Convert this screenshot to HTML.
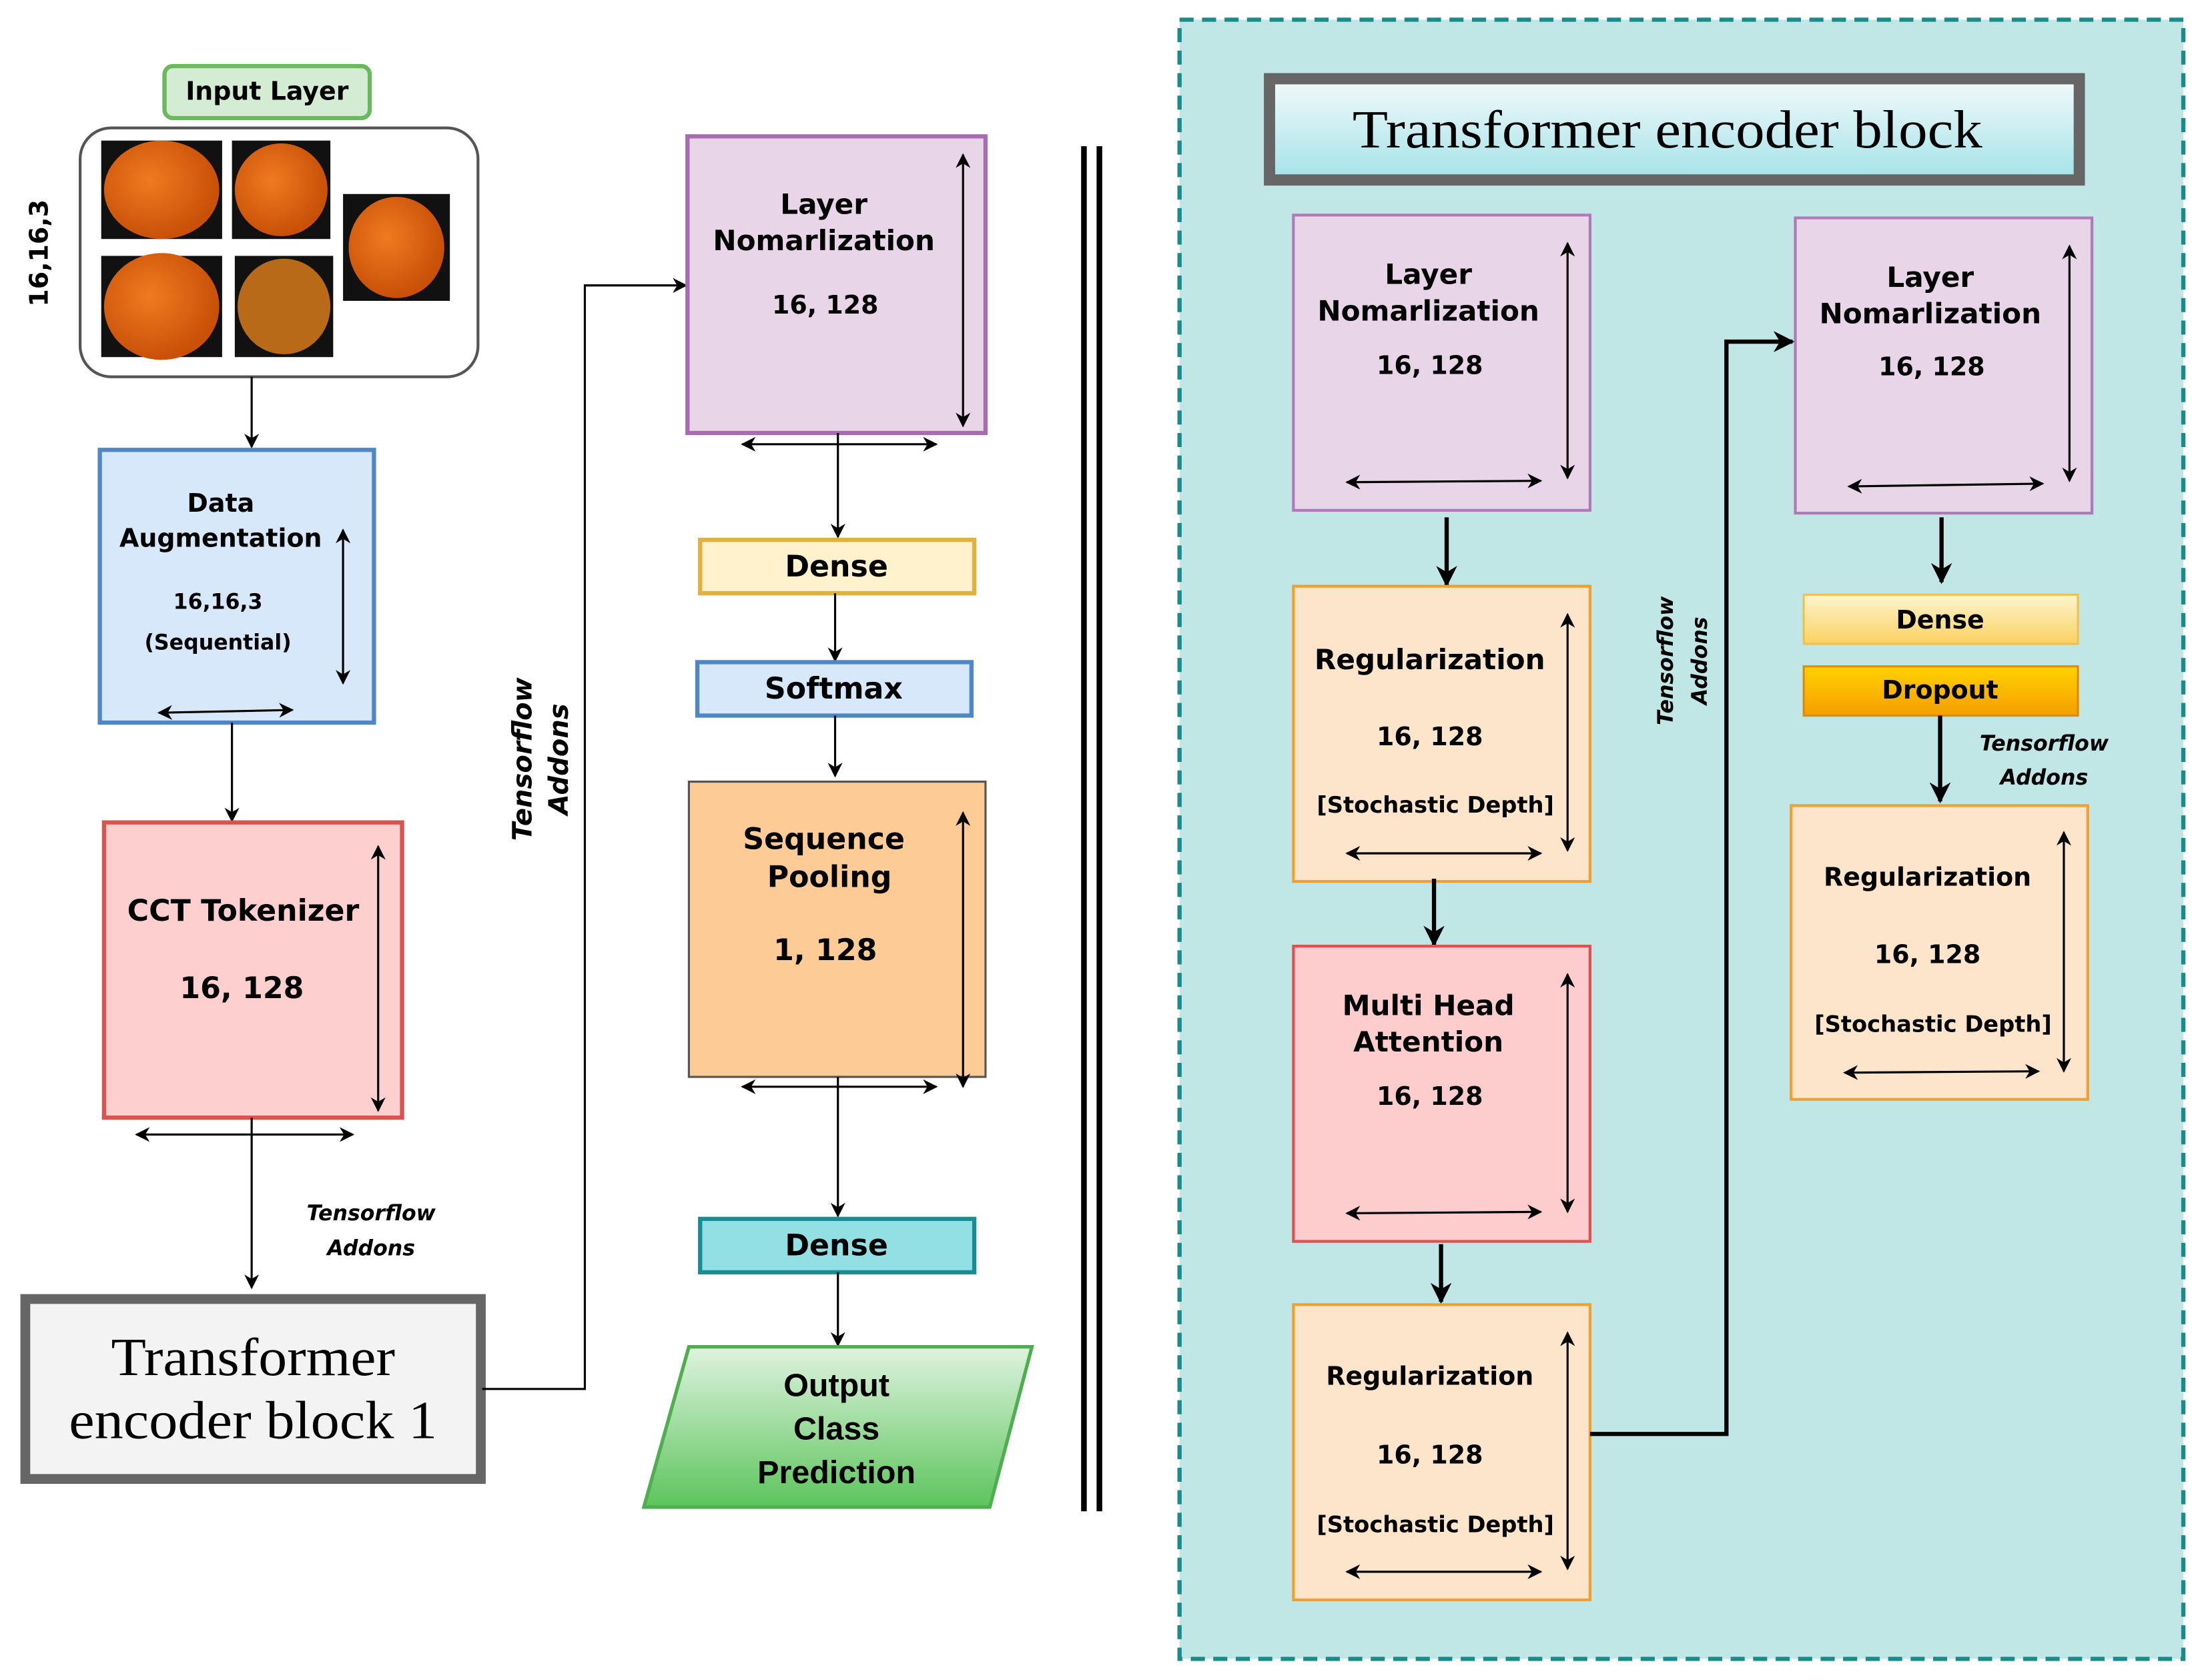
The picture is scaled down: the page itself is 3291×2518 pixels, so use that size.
<!DOCTYPE html>
<html><head><meta charset="utf-8"><style>html,body{margin:0;padding:0;background:#fff}svg{display:block}</style></head>
<body>
<svg width="3291" height="2518" viewBox="0 0 1562 1195" preserveAspectRatio="none" xmlns="http://www.w3.org/2000/svg">
<defs>
<marker id="a" viewBox="0 0 10 10" refX="9" refY="5" markerWidth="7" markerHeight="7" orient="auto-start-reverse"><path d="M0,0 L10,5 L0,10 L3,5 z" fill="#000"/></marker>
<marker id="b" viewBox="0 0 10 10" refX="9" refY="5" markerWidth="5" markerHeight="5" orient="auto-start-reverse"><path d="M0,0 L10,5 L0,10 L3,5 z" fill="#000"/></marker>
<linearGradient id="g1" x1="0" y1="0" x2="0" y2="1"><stop offset="0" stop-color="#dff3df"/><stop offset="1" stop-color="#5cc45c"/></linearGradient>
<linearGradient id="g2" x1="0" y1="0" x2="0" y2="1"><stop offset="0" stop-color="#f4fafa"/><stop offset="1" stop-color="#a3e2e8"/></linearGradient>
<linearGradient id="g3" x1="0" y1="0" x2="0" y2="1"><stop offset="0" stop-color="#fff6cf"/><stop offset="1" stop-color="#fbd160"/></linearGradient>
<linearGradient id="g4" x1="0" y1="0" x2="0" y2="1"><stop offset="0" stop-color="#ffd200"/><stop offset="1" stop-color="#f59e00"/></linearGradient>
<radialGradient id="eye" cx="0.4" cy="0.4" r="0.6"><stop offset="0" stop-color="#f07a20"/><stop offset="1" stop-color="#c85008"/></radialGradient>
</defs>
<g font-family="'DejaVu Sans','Liberation Sans',sans-serif" font-weight="bold" text-anchor="middle" fill="#000">
<rect x="117" y="47" width="146" height="37" rx="6" fill="#d5ecd4" stroke="#6ab95e" stroke-width="3"/>
<text x="190" y="71" font-size="18">Input Layer</text>
<rect x="57" y="91" width="283" height="177" rx="22" fill="#fff" stroke="#555" stroke-width="2"/>
<rect x="72" y="100" width="86" height="70" fill="#111"/><ellipse cx="115" cy="135" rx="41" ry="35" fill="url(#eye)"/>
<rect x="165" y="100" width="70" height="70" fill="#111"/><ellipse cx="200" cy="135" rx="33" ry="33" fill="url(#eye)"/>
<rect x="244" y="138" width="76" height="76" fill="#111"/><ellipse cx="282" cy="176" rx="34" ry="36" fill="url(#eye)"/>
<rect x="72" y="182" width="86" height="72" fill="#111"/><ellipse cx="115" cy="218" rx="41" ry="38" fill="url(#eye)"/>
<rect x="167" y="182" width="70" height="72" fill="#111"/><ellipse cx="202" cy="218" rx="33" ry="34" fill="#b86a18"/>
<text transform="translate(34,180) rotate(-90)" font-size="18">16,16,3</text>
<line x1="179" y1="268" x2="179" y2="318" stroke="#000" stroke-width="1.5" marker-end="url(#a)"/>
<rect x="71" y="320" width="195" height="194" fill="#d6e8fa" stroke="#4f86c6" stroke-width="3"/>
<text x="157" y="364" font-size="18">Data</text>
<text x="157" y="389" font-size="18">Augmentation</text>
<text x="155" y="433" font-size="15">16,16,3</text>
<text x="155" y="462" font-size="15">(Sequential)</text>
<line x1="244" y1="377" x2="244" y2="486" stroke="#000" stroke-width="1.5" marker-start="url(#a)" marker-end="url(#a)"/>
<line x1="113" y1="507" x2="208" y2="505" stroke="#000" stroke-width="1.5" marker-start="url(#a)" marker-end="url(#a)"/>
<line x1="165" y1="514" x2="165" y2="584" stroke="#000" stroke-width="1.5" marker-end="url(#a)"/>
<rect x="74" y="585" width="212" height="210" fill="#fdd0cf" stroke="#d9534f" stroke-width="3"/>
<text x="173" y="655" font-size="21">CCT Tokenizer</text>
<text x="172" y="710" font-size="21">16, 128</text>
<line x1="269" y1="602" x2="269" y2="790" stroke="#000" stroke-width="1.5" marker-start="url(#a)" marker-end="url(#a)"/>
<line x1="97" y1="807" x2="251" y2="807" stroke="#000" stroke-width="1.5" marker-start="url(#a)" marker-end="url(#a)"/>
<line x1="179" y1="795" x2="179" y2="916" stroke="#000" stroke-width="1.5" marker-end="url(#a)"/>
<text x="264" y="868" font-size="15" font-style="italic">Tensorflow</text>
<text x="264" y="893" font-size="15" font-style="italic">Addons</text>
<rect x="18" y="924" width="324" height="128" fill="#f3f3f3" stroke="#666" stroke-width="7"/>
<text x="180" y="978" font-size="38" font-weight="normal" font-family="'Liberation Serif',serif" textLength="202" lengthAdjust="spacingAndGlyphs">Transformer</text>
<text x="180" y="1023" font-size="38" font-weight="normal" font-family="'Liberation Serif',serif" textLength="262" lengthAdjust="spacingAndGlyphs">encoder  block 1</text>
<polyline points="343,988 416,988 416,203 488,203" fill="none" stroke="#000" stroke-width="1.5" marker-end="url(#a)"/>
<text transform="translate(378,540) rotate(-90)" font-size="19" font-style="italic">Tensorflow</text>
<text transform="translate(404,540) rotate(-90)" font-size="19" font-style="italic">Addons</text>
<rect x="489" y="97" width="212" height="211" fill="#e8d5e8" stroke="#a66bb0" stroke-width="3"/>
<text x="586" y="152" font-size="20">Layer</text>
<text x="586" y="178" font-size="20">Nomarlization</text>
<text x="587" y="223" font-size="18">16, 128</text>
<line x1="685" y1="110" x2="685" y2="303" stroke="#000" stroke-width="1.5" marker-start="url(#a)" marker-end="url(#a)"/>
<line x1="528" y1="316" x2="666" y2="316" stroke="#000" stroke-width="1.5" marker-start="url(#a)" marker-end="url(#a)"/>
<line x1="596" y1="308" x2="596" y2="382" stroke="#000" stroke-width="1.5" marker-end="url(#a)"/>
<rect x="498" y="384" width="195" height="38" fill="#fff2cc" stroke="#e0b040" stroke-width="3"/>
<text x="595" y="410" font-size="21">Dense</text>
<line x1="594" y1="422" x2="594" y2="470" stroke="#000" stroke-width="1.5" marker-end="url(#a)"/>
<rect x="496" y="471" width="195" height="38" fill="#d6e8fa" stroke="#4f86c6" stroke-width="3"/>
<text x="593" y="497" font-size="21">Softmax</text>
<line x1="594" y1="509" x2="594" y2="552" stroke="#000" stroke-width="1.5" marker-end="url(#a)"/>
<rect x="490" y="556" width="211" height="210" fill="#fdcb96" stroke="#555" stroke-width="1.5"/>
<text x="586" y="604" font-size="21">Sequence</text>
<text x="590" y="631" font-size="21">Pooling</text>
<text x="587" y="683" font-size="21">1, 128</text>
<line x1="685" y1="578" x2="685" y2="773" stroke="#000" stroke-width="1.5" marker-start="url(#a)" marker-end="url(#a)"/>
<line x1="528" y1="773" x2="666" y2="773" stroke="#000" stroke-width="1.5" marker-start="url(#a)" marker-end="url(#a)"/>
<line x1="596" y1="766" x2="596" y2="865" stroke="#000" stroke-width="1.5" marker-end="url(#a)"/>
<rect x="498" y="867" width="195" height="38" fill="#93e0e4" stroke="#1a8c94" stroke-width="3"/>
<text x="595" y="893" font-size="21">Dense</text>
<line x1="596" y1="905" x2="596" y2="957" stroke="#000" stroke-width="1.5" marker-end="url(#a)"/>
<polygon points="490,958 734,958 704,1072 458,1072" fill="url(#g1)" stroke="#4fae4f" stroke-width="2.5"/>
<text x="595" y="993" font-size="23" font-family="'Liberation Sans',sans-serif">Output</text>
<text x="595" y="1024" font-size="23" font-family="'Liberation Sans',sans-serif">Class</text>
<text x="595" y="1055" font-size="23" font-family="'Liberation Sans',sans-serif">Prediction</text>
<line x1="771" y1="104" x2="771" y2="1075" stroke="#000" stroke-width="4"/>
<line x1="782" y1="104" x2="782" y2="1075" stroke="#000" stroke-width="4"/>
<rect x="839" y="14" width="714" height="1166" fill="#c1e6e6" stroke="#1a8a8a" stroke-width="3" stroke-dasharray="10 6"/>
<rect x="903" y="56" width="576" height="72" fill="url(#g2)" stroke="#666" stroke-width="8"/>
<text x="1186" y="105" font-size="38" font-weight="normal" font-family="'Liberation Serif',serif" textLength="448" lengthAdjust="spacingAndGlyphs">Transformer encoder  block</text>
<rect x="920" y="153" width="211" height="210" fill="#e8d5e8" stroke="#b07ab8" stroke-width="2"/>
<text x="1016" y="202" font-size="20">Layer</text>
<text x="1016" y="228" font-size="20">Nomarlization</text>
<text x="1017" y="266" font-size="18">16, 128</text>
<line x1="1115" y1="173" x2="1115" y2="340" stroke="#000" stroke-width="1.5" marker-start="url(#a)" marker-end="url(#a)"/>
<line x1="958" y1="343" x2="1096" y2="342" stroke="#000" stroke-width="1.5" marker-start="url(#a)" marker-end="url(#a)"/>
<line x1="1029" y1="368" x2="1029" y2="416" stroke="#000" stroke-width="3" marker-end="url(#b)"/>
<rect x="920" y="417" width="211" height="210" fill="#fde5cb" stroke="#f0a030" stroke-width="2"/>
<text x="1017" y="476" font-size="20">Regularization</text>
<text x="1017" y="530" font-size="18">16, 128</text>
<text x="1021" y="578" font-size="16">[Stochastic Depth]</text>
<line x1="1115" y1="437" x2="1115" y2="605" stroke="#000" stroke-width="1.5" marker-start="url(#a)" marker-end="url(#a)"/>
<line x1="958" y1="607" x2="1096" y2="607" stroke="#000" stroke-width="1.5" marker-start="url(#a)" marker-end="url(#a)"/>
<line x1="1020" y1="625" x2="1020" y2="672" stroke="#000" stroke-width="3" marker-end="url(#b)"/>
<rect x="920" y="673" width="211" height="210" fill="#fdcdcd" stroke="#e05050" stroke-width="2"/>
<text x="1016" y="722" font-size="20">Multi Head</text>
<text x="1016" y="748" font-size="20">Attention</text>
<text x="1017" y="786" font-size="18">16, 128</text>
<line x1="1115" y1="693" x2="1115" y2="862" stroke="#000" stroke-width="1.5" marker-start="url(#a)" marker-end="url(#a)"/>
<line x1="958" y1="863" x2="1096" y2="862" stroke="#000" stroke-width="1.5" marker-start="url(#a)" marker-end="url(#a)"/>
<line x1="1025" y1="885" x2="1025" y2="926" stroke="#000" stroke-width="3" marker-end="url(#b)"/>
<rect x="920" y="928" width="211" height="210" fill="#fde5cb" stroke="#f0a030" stroke-width="2"/>
<text x="1017" y="985" font-size="18">Regularization</text>
<text x="1017" y="1041" font-size="18">16, 128</text>
<text x="1021" y="1090" font-size="16">[Stochastic Depth]</text>
<line x1="1115" y1="948" x2="1115" y2="1116" stroke="#000" stroke-width="1.5" marker-start="url(#a)" marker-end="url(#a)"/>
<line x1="958" y1="1118" x2="1096" y2="1118" stroke="#000" stroke-width="1.5" marker-start="url(#a)" marker-end="url(#a)"/>
<polyline points="1131,1020 1228,1020 1228,243 1275,243" fill="none" stroke="#000" stroke-width="3" marker-end="url(#b)"/>
<text transform="translate(1190,470) rotate(-90)" font-size="15" font-style="italic">Tensorflow</text>
<text transform="translate(1214,470) rotate(-90)" font-size="15" font-style="italic">Addons</text>
<rect x="1277" y="155" width="211" height="210" fill="#e8d5e8" stroke="#b07ab8" stroke-width="2"/>
<text x="1373" y="204" font-size="20">Layer</text>
<text x="1373" y="230" font-size="20">Nomarlization</text>
<text x="1374" y="267" font-size="18">16, 128</text>
<line x1="1472" y1="175" x2="1472" y2="342" stroke="#000" stroke-width="1.5" marker-start="url(#a)" marker-end="url(#a)"/>
<line x1="1315" y1="346" x2="1453" y2="344" stroke="#000" stroke-width="1.5" marker-start="url(#a)" marker-end="url(#a)"/>
<line x1="1381" y1="368" x2="1381" y2="414" stroke="#000" stroke-width="3" marker-end="url(#b)"/>
<rect x="1283" y="423" width="195" height="35" fill="url(#g3)" stroke="#f0c050" stroke-width="1.5"/>
<text x="1380" y="447" font-size="18">Dense</text>
<rect x="1283" y="474" width="195" height="35" fill="url(#g4)" stroke="#e08a00" stroke-width="1.5"/>
<text x="1380" y="497" font-size="18">Dropout</text>
<line x1="1380" y1="509" x2="1380" y2="570" stroke="#000" stroke-width="3" marker-end="url(#b)"/>
<text x="1454" y="534" font-size="15" font-style="italic">Tensorflow</text>
<text x="1454" y="558" font-size="15" font-style="italic">Addons</text>
<rect x="1274" y="573" width="211" height="209" fill="#fde5cb" stroke="#f0a030" stroke-width="2"/>
<text x="1371" y="630" font-size="18">Regularization</text>
<text x="1371" y="685" font-size="18">16, 128</text>
<text x="1375" y="734" font-size="16">[Stochastic Depth]</text>
<line x1="1468" y1="592" x2="1468" y2="762" stroke="#000" stroke-width="1.5" marker-start="url(#a)" marker-end="url(#a)"/>
<line x1="1312" y1="763" x2="1450" y2="762" stroke="#000" stroke-width="1.5" marker-start="url(#a)" marker-end="url(#a)"/>
</g>
</svg>
</body></html>
